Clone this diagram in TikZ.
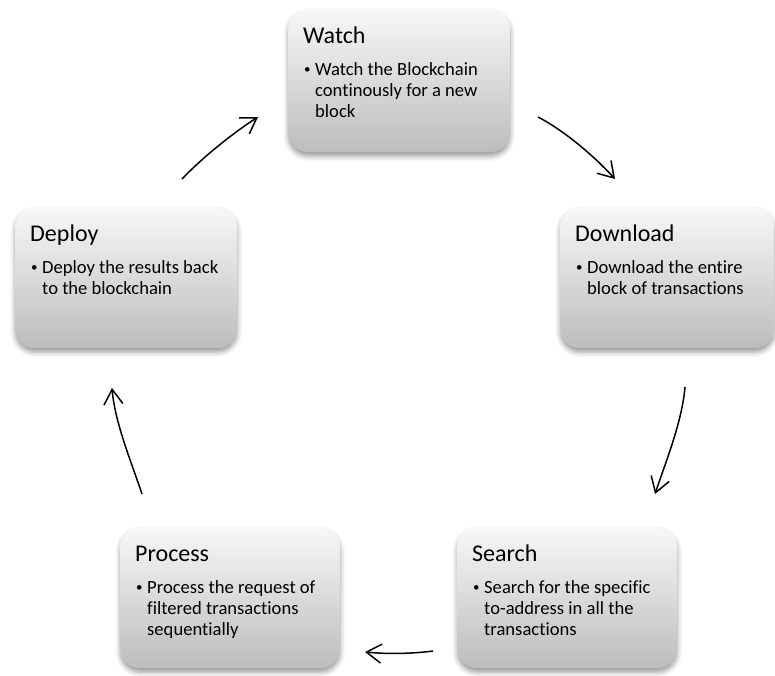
\documentclass[tikz,border=0pt]{standalone}
\usepackage{fontspec}
\setmainfont{Carlito}[Ligatures=NoCommon]
\usetikzlibrary{arrows.meta,shadows.blur}

\tikzset{
  stage/.style={rounded corners=20pt, anchor=north west, inner sep=0pt, draw=none,
    top color=black!3, bottom color=black!26,
    blur shadow={shadow xshift=0pt, shadow yshift=-4pt, shadow blur radius=5pt, shadow opacity=40}},
  stagetitle/.style={anchor=base west, inner sep=0pt, font=\fontsize{24}{28}\selectfont},
  stagebody/.style={anchor=base west, inner sep=0pt, font=\fontsize{18.6}{21}\selectfont},
  flow/.style={line width=1.5pt, -{Straight Barb[length=15pt,width=19pt]}},
}
% bulleted paragraph with a hanging indent
\newcommand{\stagebullet}{\makebox[11pt][l]{\raisebox{1.6pt}{\fontsize{13}{13}\selectfont\textbullet}}}
\newcommand{\stagetext}[1]{\parbox[t]{215pt}{\hangindent=11pt\hangafter=1\noindent\stagebullet#1}}

\begin{document}
\begin{tikzpicture}[x=1pt,y=-1pt]
\useasboundingbox (0,0) rectangle (775,675);

% stages of the cycle
\node[stage, minimum width=222pt, minimum height=143pt] (watch)    at (288,9)   {};
\node[stage, minimum width=214pt, minimum height=141pt] (download) at (560,207) {};
\node[stage, minimum width=220pt, minimum height=141pt] (search)   at (457,527) {};
\node[stage, minimum width=220pt, minimum height=141pt] (process)  at (120,527) {};
\node[stage, minimum width=222pt, minimum height=141pt] (deploy)   at (15,207)  {};

\foreach \s/\t in {watch/Watch, download/Download, search/Search, process/Process, deploy/Deploy}{
  \node[stagetitle] (\s-title) at ([shift={(15pt,-34pt)}]\s.north west) {\t};
}
\node[stagebody] (watch-text) at ([shift={(16pt,-66pt)}]watch.north west)
  {\stagetext{Watch the Blockchain\\continously for a new\\block}};
\node[stagebody] (download-text) at ([shift={(16pt,-66pt)}]download.north west)
  {\stagetext{Download the entire\\block of transactions}};
\node[stagebody] (search-text) at ([shift={(16pt,-66pt)}]search.north west)
  {\stagetext{Search for the specific\\to-address in all the\\transactions}};
\node[stagebody] (process-text) at ([shift={(16pt,-66pt)}]process.north west)
  {\stagetext{Process the request of\\filtered transactions\\sequentially}};
\node[stagebody] (deploy-text) at ([shift={(16pt,-66pt)}]deploy.north west)
  {\stagetext{Deploy the results back\\to the blockchain}};

% curved arrows between the stages
\coordinate (a1s) at (182,179); \coordinate (a1e) at (258,117);
\coordinate (a2s) at (538,117); \coordinate (a2e) at (615,179);
\coordinate (a3s) at (685,387); \coordinate (a3e) at (655,494);
\coordinate (a4s) at (433,651); \coordinate (a4e) at (365,652);
\coordinate (a5s) at (142,494); \coordinate (a5e) at (112,388);

\draw[flow] (a1s) .. controls (203,157) and (233,133) .. (a1e);
\draw[flow] (a2s) .. controls (565,131) and (595,157) .. (a2e);
\draw[flow] (a3s) .. controls (682,422) and (666,461) .. (a3e);
\draw[flow] (a4s) .. controls (410,654) and (386,654) .. (a4e);
\draw[flow] (a5s) .. controls (131,461) and (115,423) .. (a5e);
\end{tikzpicture}
\end{document}
